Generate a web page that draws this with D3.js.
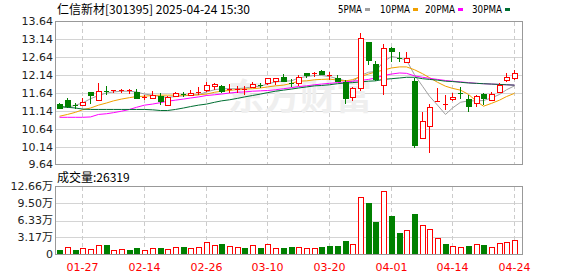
<!DOCTYPE html>
<html>
<head>
<meta charset="utf-8">
<script src="https://cdn.jsdelivr.net/npm/d3@7"></script>
<style>
  body { margin: 0; background: #fff; }
  svg { display: block; font-family: "DejaVu Sans", "Noto Sans CJK SC", sans-serif; }
</style>
</head>
<body>
<script>
// dates (2025), daily K line
const dates = ["01-22","01-23","01-24","01-27",
  "02-05","02-06","02-07","02-10","02-11","02-12","02-13","02-14","02-17","02-18","02-19","02-20","02-21","02-24","02-25","02-26","02-27","02-28",
  "03-03","03-04","03-05","03-06","03-07","03-10","03-11","03-12","03-13","03-14","03-17","03-18","03-19","03-20","03-21","03-24","03-25","03-26","03-27","03-28","03-31",
  "04-01","04-02","04-03","04-07","04-08","04-09","04-10","04-11","04-14","04-15","04-16","04-17","04-18","04-21","04-22","04-23","04-24"];

const opens = [11.33,11.44,11.30,11.30,11.67,11.45,11.69,11.67,11.69,11.70,11.67,11.50,11.52,11.55,11.32,11.55,11.61,11.59,11.65,11.71,
  11.83,11.83,11.73,11.74,11.74,11.80,11.85,11.91,11.99,12.10,11.93,11.92,12.20,12.17,12.25,12.11,12.06,11.95,11.53,11.80,
  13.06,12.45,11.87,12.90,12.62,12.50,11.97,10.40,10.71,11.41,11.33,11.47,11.63,11.48,11.36,11.61,11.45,11.67,12.01,12.06];
const highs = [11.35,11.50,11.36,11.50,11.68,11.92,11.83,11.73,11.76,11.76,11.75,11.58,11.69,11.64,11.55,11.67,11.67,11.72,11.81,11.95,
  11.91,11.87,11.90,11.84,11.84,11.95,11.92,12.06,12.07,12.17,12.03,12.15,12.20,12.23,12.29,12.24,12.15,12.01,11.80,13.31,
  13.06,12.54,13.01,12.94,12.80,12.80,12.06,11.10,11.33,11.78,11.59,11.64,11.80,11.58,11.58,11.64,11.67,11.92,12.20,12.29];
const lows = [11.18,11.22,11.18,11.30,11.33,11.45,11.59,11.64,11.64,11.61,11.50,11.44,11.50,11.30,11.32,11.52,11.52,11.55,11.58,11.67,
  11.73,11.64,11.64,11.64,11.58,11.78,11.78,11.87,11.87,11.97,11.80,11.83,12.06,12.10,12.13,12.01,11.94,11.34,11.43,11.69,
  12.43,11.97,11.58,12.52,12.52,12.48,10.11,10.40,9.97,11.41,11.16,11.43,11.48,11.11,11.24,11.30,11.44,11.67,11.95,12.01];
const closes = [11.22,11.27,11.26,11.38,11.58,11.70,11.67,11.71,11.73,11.71,11.50,11.52,11.59,11.41,11.53,11.63,11.58,11.65,11.66,11.85,
  11.88,11.69,11.75,11.76,11.75,11.89,11.84,12.05,12.06,11.98,11.89,12.10,12.15,12.19,12.17,12.13,11.97,11.50,11.78,13.19,
  12.57,12.03,12.91,12.82,12.60,12.61,10.17,10.87,11.24,11.43,11.34,11.53,11.60,11.29,11.55,11.50,11.62,11.87,12.10,12.20];

// volume, in 万 (10k lots)
const volumes = [0.92,1.35,0.92,1.23,1.11,1.85,1.85,0.92,1.05,0.92,1.29,0.92,1.29,1.29,1.11,1.48,1.48,1.29,1.48,2.34,
  1.85,2.03,1.60,1.48,1.29,1.79,1.29,1.97,1.29,1.29,1.48,1.48,1.29,1.23,1.35,1.66,1.66,2.59,1.97,10.66,
  9.61,6.10,11.83,7.21,4.07,4.62,7.58,5.48,4.80,3.08,2.03,1.66,1.48,1.66,1.97,1.85,1.48,2.16,2.34,2.6319];

// moving averages as shown
const ma5 = [11.22,11.24,11.30,11.36,11.48,11.57,11.64,11.67,11.69,11.69,11.67,11.61,11.58,11.54,11.52,11.54,11.56,11.58,11.59,11.67,
  11.73,11.76,11.76,11.76,11.78,11.81,11.83,11.89,11.95,11.97,11.98,12.06,12.10,12.13,12.13,12.10,12.04,11.98,11.95,12.13,
  12.22,12.24,12.52,12.66,12.62,12.56,12.15,11.83,11.55,11.30,11.04,11.22,11.38,11.42,11.42,11.43,11.50,11.60,11.73,11.84];
const ma10 = [10.99,11.04,11.10,11.17,11.22,11.30,11.36,11.42,11.47,11.51,11.54,11.55,11.57,11.58,11.58,11.58,11.58,11.58,11.59,11.61,
  11.66,11.69,11.71,11.74,11.75,11.76,11.78,11.81,11.84,11.86,11.91,11.97,11.98,12.01,12.02,12.03,12.00,11.98,12.01,12.10,
  12.17,12.23,12.28,12.34,12.37,12.37,12.29,12.18,12.07,11.94,11.83,11.77,11.72,11.60,11.41,11.27,11.35,11.44,11.54,11.63];
const ma20 = [10.96,10.96,10.96,10.96,10.97,11.04,11.06,11.09,11.13,11.18,11.24,11.30,11.33,11.37,11.41,11.44,11.47,11.50,11.53,11.57,
  11.59,11.61,11.64,11.66,11.67,11.69,11.70,11.71,11.73,11.76,11.79,11.82,11.84,11.87,11.89,11.91,11.93,11.95,11.97,11.99,
  12.02,12.06,12.13,12.17,12.20,12.19,12.12,12.08,12.05,12.02,11.99,11.97,11.95,11.93,11.91,11.90,11.89,11.88,11.87,11.86];
const ma30 = [11.27,11.24,11.22,11.19,11.18,11.18,11.18,11.18,11.18,11.18,11.18,11.18,11.17,11.15,11.15,11.18,11.22,11.26,11.30,11.33,
  11.38,11.42,11.45,11.49,11.53,11.57,11.61,11.65,11.69,11.72,11.75,11.78,11.81,11.84,11.85,11.87,11.90,11.92,11.93,11.95,
  11.97,11.98,12.02,12.04,12.06,12.08,12.08,12.04,12.02,12.00,11.97,11.96,11.94,11.92,11.91,11.90,11.89,11.88,11.87,11.86];

const priceTicks = [9.64, 10.14, 10.64, 11.14, 11.64, 12.14, 12.64, 13.14, 13.64];
const volTicks = [0, 3.17, 6.33, 9.50, 12.66];
const volTickLabels = ["0", "3.17万", "6.33万", "9.50万", "12.66万"];
const dateTicks = ["01-27", "02-14", "02-26", "03-10", "03-20", "04-01", "04-14", "04-24"];

const maNames = ["5PMA", "10PMA", "20PMA", "30PMA"];
const maColors = ["#a0a0a0", "#f0a000", "#ff00ff", "#006e32"];
const maSeries = [ma5, ma10, ma20, ma30];

const red = "#ff0000", green = "#008000";

const W = 578, H = 276;
const left = 55.5, right = 522.5;
const pTop = 21.5, pBot = 164.5, vTop = 186.5, vBot = 254.5;

const svg = d3.select("body").append("svg")
    .attr("width", W)
    .attr("height", H);

// scales
const x = d3.scaleBand().domain(dates).range([56, 518.5]);
const cx = d => Math.floor(x(d) + x.bandwidth() / 2) + 0.5;
const y = d3.scaleLinear().domain([9.64, 13.64]).range([pBot, pTop]);
const yv = d3.scaleLinear().domain([0, 12.66]).range([vBot, vTop]);

// grids
const grid = svg.append("g").attr("shape-rendering", "crispEdges");
grid.selectAll(".hp").data(priceTicks.slice(1, -1)).enter().append("line")
    .attr("x1", left).attr("x2", right)
    .attr("y1", d => Math.round(y(d)) + 0.5).attr("y2", d => Math.round(y(d)) + 0.5)
    .attr("stroke", "#d4d4d4");
grid.selectAll(".hv").data(volTicks.slice(1, -1)).enter().append("line")
    .attr("x1", left).attr("x2", right)
    .attr("y1", d => Math.round(yv(d)) + 0.5).attr("y2", d => Math.round(yv(d)) + 0.5)
    .attr("stroke", "#d4d4d4");
[[pTop, pBot], [vTop, vBot]].forEach(function(p) {
    grid.selectAll(null).data(dateTicks).enter().append("line")
        .attr("x1", d => cx(d)).attr("x2", d => cx(d))
        .attr("y1", p[0]).attr("y2", p[1])
        .attr("stroke", "#cccccc")
        .attr("stroke-dasharray", "4,3");
});

// watermark
svg.append("text")
    .attr("x", 228).attr("y", 110)
    .attr("font-family", "Noto Sans CJK SC")
    .attr("font-size", 36).attr("font-weight", "bold")
    .attr("fill", "#efefef")
    .text("东方财富");

// MA lines
const line = d3.line().x((d, i) => cx(dates[i])).y(d => y(d));
maSeries.forEach(function(s, k) {
    svg.append("path")
        .attr("d", line(s))
        .attr("fill", "none")
        .attr("stroke", maColors[k])
        .attr("stroke-width", 1);
});

// candles
const candles = svg.append("g").attr("shape-rendering", "crispEdges");
dates.forEach(function(d, i) {
    const up = closes[i] >= opens[i];
    const col = up ? red : green;
    const c = cx(d);
    candles.append("line")
        .attr("x1", c).attr("x2", c)
        .attr("y1", y(highs[i])).attr("y2", y(lows[i]))
        .attr("stroke", col);
    const top = y(Math.max(opens[i], closes[i]));
    const h = Math.abs(y(opens[i]) - y(closes[i]));
    if (h < 1.5) {
        candles.append("line")
            .attr("x1", c - 2.5).attr("x2", c + 2.5)
            .attr("y1", Math.round(top) + 0.5).attr("y2", Math.round(top) + 0.5)
            .attr("stroke", col);
    } else if (up) {
        candles.append("rect")
            .attr("x", c - 2.5).attr("y", Math.round(top) + 0.5)
            .attr("width", 5).attr("height", Math.round(h))
            .attr("fill", "#fff").attr("stroke", col);
    } else {
        candles.append("rect")
            .attr("x", c - 3).attr("y", Math.round(top))
            .attr("width", 6).attr("height", Math.round(h) + 1)
            .attr("fill", col);
    }
});

// volume bars (colour by change from previous close)
const vols = svg.append("g").attr("shape-rendering", "crispEdges");
dates.forEach(function(d, i) {
    const up = i === 0 ? closes[i] >= opens[i] : closes[i] >= closes[i - 1];
    const c = cx(d);
    const top = Math.round(yv(volumes[i]));
    if (up) {
        vols.append("rect")
            .attr("x", c - 2.5).attr("y", top + 0.5)
            .attr("width", 5).attr("height", vBot - top - 0.5)
            .attr("fill", "#fff").attr("stroke", red);
    } else {
        vols.append("rect")
            .attr("x", c - 3).attr("y", top)
            .attr("width", 6).attr("height", vBot - top)
            .attr("fill", green);
    }
});

// frames
svg.append("rect").attr("x", left).attr("y", pTop).attr("width", right - left).attr("height", pBot - pTop)
    .attr("fill", "none").attr("stroke", "#999").attr("shape-rendering", "crispEdges");
svg.append("rect").attr("x", left).attr("y", vTop).attr("width", right - left).attr("height", vBot - vTop)
    .attr("fill", "none").attr("stroke", "#999").attr("shape-rendering", "crispEdges");

// axis labels
svg.selectAll(".py").data(priceTicks).enter().append("text")
    .attr("x", 53).attr("y", d => y(d))
    .attr("dy", "0.36em")
    .attr("text-anchor", "end")
    .attr("font-size", 11).attr("fill", "#222")
    .text(d => d.toFixed(2));
svg.selectAll(".vy").data(volTicks).enter().append("text")
    .attr("x", 53).attr("y", d => yv(d))
    .attr("dy", "0.36em")
    .attr("text-anchor", "end")
    .attr("font-size", 11).attr("fill", "#222")
    .text((d, i) => volTickLabels[i]);
svg.selectAll(".dx").data(dateTicks).enter().append("text")
    .attr("x", d => cx(d)).attr("y", 271)
    .attr("text-anchor", "middle")
    .attr("font-size", 11).attr("fill", red)
    .text(d => d);

// title and legend
svg.append("text")
    .attr("x", 57).attr("y", 14)
    .attr("font-family", "Noto Sans CJK SC")
    .attr("font-size", 12).attr("fill", "#000")
    .text("仁信新材[301395] 2025-04-24 15:30");

const legendX = [338, 380, 425, 472];
const legendSq = [365, 413, 458, 505];
maNames.forEach(function(n, k) {
    svg.append("text")
        .attr("x", legendX[k]).attr("y", 13)
        .attr("font-size", 11).attr("fill", "#000")
        .attr("textLength", n.length * 6)
        .attr("lengthAdjust", "spacingAndGlyphs")
        .text(n);
    svg.append("rect")
        .attr("x", legendSq[k]).attr("y", 8)
        .attr("width", 5).attr("height", 3)
        .attr("fill", maColors[k]);
});

svg.append("text")
    .attr("x", 57).attr("y", 182)
    .attr("font-family", "Noto Sans CJK SC")
    .attr("font-size", 12).attr("fill", "#000")
    .text("成交量:" + Math.round(volumes[volumes.length - 1] * 10000));
</script>
</body>
</html>
